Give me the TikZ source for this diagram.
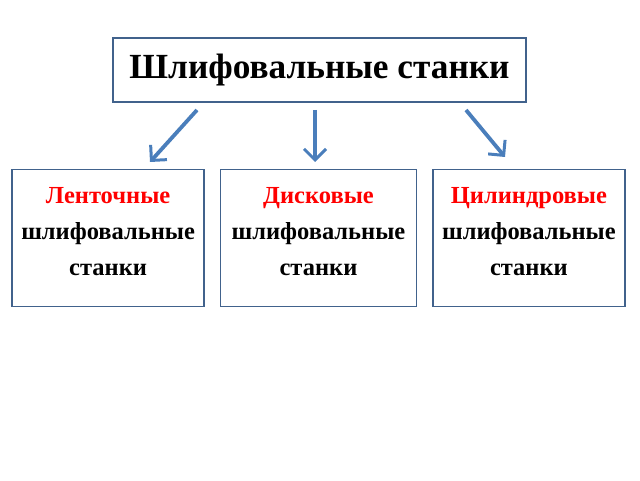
\documentclass[tikz,border=0pt]{standalone}
\usepackage{fontspec}
\setmainfont{Liberation Serif}
\usetikzlibrary{arrows.meta,positioning}
\definecolor{framegray}{RGB}{65,98,140}
\definecolor{arrowblue}{RGB}{74,126,187}
\definecolor{kindred}{RGB}{255,0,0}

\begin{document}
\begin{tikzpicture}[x=1pt,y=1pt,
 node distance=66pt and 15pt,
 box/.style={draw=framegray,line width=1.4pt,fill=white,align=center,
             minimum height=137pt,inner sep=0pt,text depth=12pt,
             font=\fontsize{24.5}{36}\selectfont\bfseries},
 head/.style={draw=framegray,line width=1.4pt,fill=white,
              minimum width=413pt,minimum height=64pt,
              font=\fontsize{35.3}{42}\selectfont\bfseries},
 arrow/.style={-{Straight Barb[length=11pt,width=22pt,line width=3pt]},
               line width=3.8pt,draw=arrowblue}]
 \useasboundingbox (0,0) rectangle (640,480);
 \node[head] (title) at (319.5,410) {Шлифовальные станки};
 \node[box,minimum width=196pt] (disk) [below=of title,xshift=-1pt] {\textcolor{kindred}{Дисковые}\\шлифовальные\\станки};
 \node[box,minimum width=192pt] (belt) [left=of disk] {\textcolor{kindred}{Ленточные}\\шлифовальные\\станки};
 \node[box,minimum width=192pt] (cyl) [right=of disk] {\textcolor{kindred}{Цилиндровые}\\шлифовальные\\станки};
 % free ends of the three arrows
 \coordinate (beltfrom) at (197,370);
 \coordinate (beltto) at (150,318);
 \coordinate (diskfrom) at (315,370);
 \coordinate (diskto) at (315,318);
 \coordinate (cylfrom) at (466,370);
 \coordinate (cylto) at (505,323);
 \draw[arrow] (beltfrom)--(beltto);
 \draw[arrow] (diskfrom)--(diskto);
 \draw[arrow] (cylfrom)--(cylto);
\end{tikzpicture}
\end{document}
